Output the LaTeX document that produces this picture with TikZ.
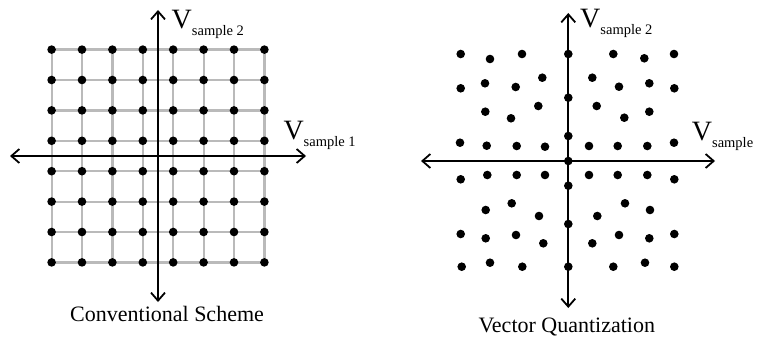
\documentclass[tikz,border=0pt]{standalone}
\usepackage{fontspec}
\setmainfont{Liberation Serif}
\usetikzlibrary{arrows.meta,positioning}
\newcommand{\Vlab}[1]{{\fontsize{28}{28}\selectfont V}\raisebox{-7pt}{\fontsize{14.5}{15}\selectfont #1}}

\begin{document}
\begin{tikzpicture}[x=1pt,y=-1pt,>={Straight Barb[length=8pt,width=14pt]},
  dot/.style={circle,fill=black,inner sep=0pt,minimum size=8.6pt},
  gridline/.style={draw=black!27,line width=2.2pt},
  axis/.style={<->,line width=1.8pt},
  lab/.style={anchor=base west,inner sep=0pt},
  title/.style={anchor=base west,inner sep=0pt,font=\fontsize{22}{24}\selectfont}]
\useasboundingbox (0,0) rectangle (758,337);
% conventional scheme
\foreach \i in {1,...,8}
  \foreach \j in {1,...,8}
    \coordinate (c-\i-\j) at ({158+(\i-4.5)*30.4},{156+(\j-4.5)*30.4});
\foreach \k in {1,...,8} {
  \draw[gridline] (c-1-\k) -- (c-8-\k);
  \draw[gridline] (c-\k-1) -- (c-\k-8);
}
\coordinate (lw) at (10,156);
\coordinate (le) at (306,156);
\coordinate (ln) at (158,10);
\coordinate (ls) at (158,302);
\draw[axis] (lw) -- (le);
\draw[axis] (ln) -- (ls);
\foreach \i in {1,...,8}
  \foreach \j in {1,...,8}
    \node[dot] (d-\i-\j) at (c-\i-\j) {};
\node[lab] (lv2) at (171.5,28.3) {\Vlab{sample 2}};
\node[lab] (lv1) at (283.3,139.3) {\Vlab{sample 1}};
\node[title] (conv) at (70,321) {Conventional Scheme};
% vector quantization
\coordinate (rw) at (421,161);
\coordinate (re) at (715,161);
\coordinate (rn) at (568.3,13);
\coordinate (rs) at (568.3,308);
\draw[axis] (rw) -- (re);
\draw[axis] (rn) -- (rs);
\foreach \x/\y [count=\n] in {460.7/54,490/59,522/54,568.3/54,613.3/54,644.3/58.3,674/54,
    460.7/88.3,485/83.3,515.7/87,542.3/77.7,592.3/77.7,619/86.7,649.3/83.3,674.3/88.3,
    568.3/97.7,485.3/111.7,511/118.3,538.3/106,596.7/106,624.3/117.7,649.3/111.7,
    460/142.7,486.7/145.7,516.7/146,545/146.7,568.3/136,589/146,617.7/146,647.3/146,674/142.7,
    568.3/161,
    460.7/179.3,487.3/175,516.7/175,545/175,568.3/185.7,589/175,617.7/175,647.3/175,674.3/179.3,
    485.7/210,511.7/203.3,539/216,568.3/224,597.3/216,625/203.3,650/210,
    460.7/234,485.7/238.3,516/235,543.3/243.3,592.3/243.3,619/235,649.3/238.3,674.3/234,
    461.7/266.7,490/262.7,522.3/266.7,568.3/266.7,613.3/266.7,645/262.7,674.3/266.7}
  \node[dot] (q\n) at (\x,\y) {};
\node[lab] (rv2) at (580,28) {\Vlab{sample 2}};
\node[lab] (rv1) at (691.7,140.7) {\Vlab{sample}};
\node[title] (vq) at (478.3,332.5) {Vector Quantization};
\end{tikzpicture}
\end{document}
